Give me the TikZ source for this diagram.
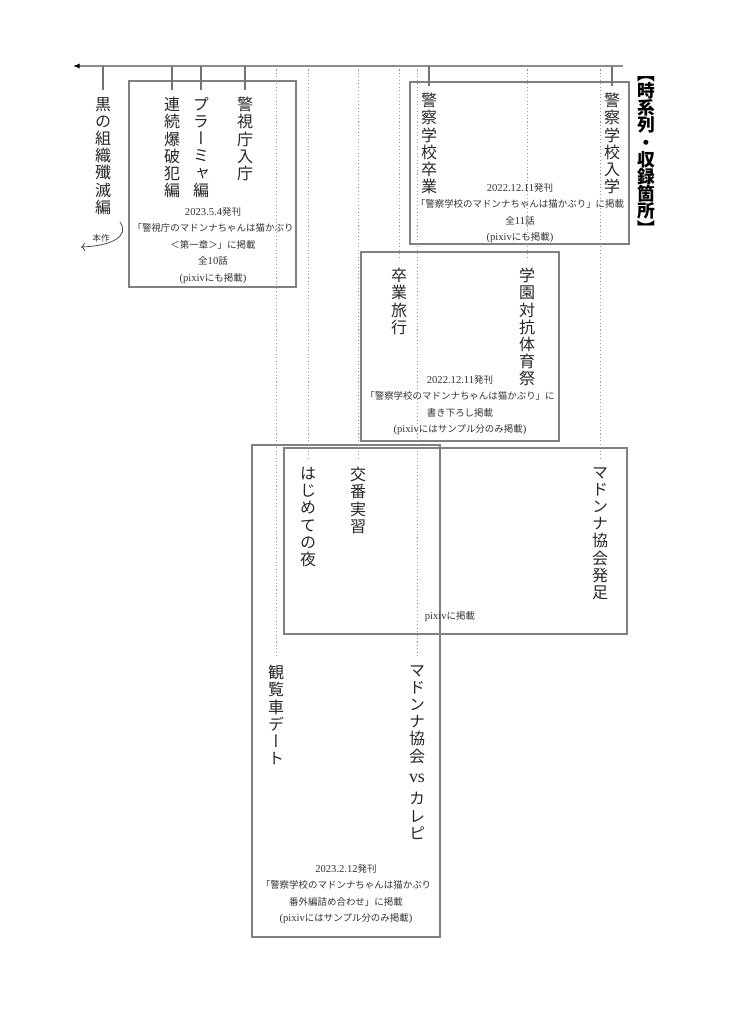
\documentclass[tikz,border=0pt]{standalone}
\usepackage{fontspec}
\usepackage{tikz}
\usetikzlibrary{arrows.meta}
\newfontfamily\jpfont{Noto Sans CJK JP}
\newfontfamily\tatefont[RawFeature=+vert]{Noto Sans CJK JP}
\newfontfamily\latfont[Scale=1.12]{Liberation Serif}
\newcommand{\ltn}[1]{{\latfont #1}}

\tikzset{
  tate/.style={anchor=north, inner sep=0pt, align=center, text=black!85,
    font=\tatefont\fontsize{12}{12.9}\selectfont},
  info/.style={anchor=north, inner sep=0pt, align=center, text=black!80,
    font=\jpfont\fontsize{7.1}{12.4}\selectfont},
  frame/.style={draw=black!50, line width=0.9pt},
  tick/.style={draw=black!55, line width=0.9pt, shorten >=5pt},
  guide/.style={draw=black!40, line width=0.6pt, dash pattern=on 0.8pt off 1.8pt, shorten >=6pt},
}

\begin{document}
\setlength{\lineskiplimit}{-20pt}
\begin{tikzpicture}[x=0.75pt,y=0.75pt,yscale=-1,xscale=1]
\useasboundingbox (0,0) rectangle (731,1024);

% timeline
\coordinate (tl-r) at (623,66);
\coordinate (tl-l) at (73,66);
\draw [draw=black!45, line width=1pt, -{Latex[length=5pt,width=4pt,black]}] (tl-r) -- (tl-l) ;

% frames
\draw [frame] (129,81) rectangle (296,287) ;
\draw [frame] (410,82) rectangle (629,244) ;
\draw [frame] (361,252) rectangle (559,441) ;
\draw [frame] (252,445) rectangle (440,937) ;
\draw [frame] (284,448) rectangle (627,634) ;

% episodes
\node [tate] (kuro) at (103,97) {黒\\の\\組\\織\\殲\\滅\\編};
\node [tate] (renzoku) at (172,97) {連\\続\\爆\\破\\犯\\編};
\node [tate] (pramya) at (201,97) {プ\\ラ\\ー\\ミ\\ャ\\編};
\node [tate] (keishi) at (245,97) {警\\視\\庁\\入\\庁};
\node [tate] (kanransha) at (276,665) {観\\覧\\車\\デ\\ー\\ト};
\node [tate] (hajimete) at (308,467) {は\\じ\\め\\て\\の\\夜};
\node [tate] (koban) at (358,467) {交\\番\\実\\習};
\node [tate] (ryoko) at (399,268) {卒\\業\\旅\\行};
\node [tate] (karepi) at (417,665) {マ\\ド\\ン\\ナ\\協\\会\\[2.4pt]\ltn{vs}\\[4pt]カ\\レ\\ピ};
\node [tate] (sotsugyo) at (429,93) {警\\察\\学\\校\\卒\\業};
\node [tate] (taiikusai) at (527,268) {学\\園\\対\\抗\\体\\育\\祭};
\node [tate] (hossoku) at (600,467) {マ\\ド\\ン\\ナ\\協\\会\\発\\足};
\node [tate] (nyugaku) at (612,93) {警\\察\\学\\校\\入\\学};
\node [tate, font=\tatefont\bfseries\fontsize{13.3}{12.9}\selectfont, text=black] (title) at (646,76) {【\\時\\系\\列\\・\\収\\録\\箇\\所\\】};

% sources
\node [info] (infoA) at (213,207) {\ltn{2023.5.4}発刊\\「警視庁のマドンナちゃんは猫かぶり\\＜第一章＞」に掲載\\全\ltn{10}話\\\ltn{(pixiv}にも掲載\ltn{)}};
\node [info] (infoB) at (520,183) {\ltn{2022.12.11}発刊\\「警察学校のマドンナちゃんは猫かぶり」に掲載\\全\ltn{11}話\\\ltn{(pixiv}にも掲載\ltn{)}};
\node [info] (infoC) at (460,375) {\ltn{2022.12.11}発刊\\「警察学校のマドンナちゃんは猫かぶり」に\\書き下ろし掲載\\\ltn{(pixiv}にはサンプル分のみ掲載\ltn{)}};
\node [info, anchor=center] (infoE) at (450,617) {\ltn{pixiv}に掲載};
\node [info] (infoD) at (346,864) {\ltn{2023.2.12}発刊\\「警察学校のマドンナちゃんは猫かぶり\\番外編詰め合わせ」に掲載\\\ltn{(pixiv}にはサンプル分のみ掲載\ltn{)}};
\node [info, font=\jpfont\fontsize{6.4}{8}\selectfont] (honsaku) at (101,234) {本作};

% ticks
\draw [tick] (kuro.north |- tl-l) -- (kuro.north) ;
\draw [tick] (renzoku.north |- tl-l) -- (renzoku.north) ;
\draw [tick] (pramya.north |- tl-l) -- (pramya.north) ;
\draw [tick] (keishi.north |- tl-l) -- (keishi.north) ;
\draw [tick] (sotsugyo.north |- tl-l) -- (sotsugyo.north) ;
\draw [tick] (nyugaku.north |- tl-l) -- (nyugaku.north) ;
\draw [guide] (kanransha.north |- tl-l) -- (kanransha.north) ;
\draw [guide] (hajimete.north |- tl-l) -- (hajimete.north) ;
\draw [guide] (koban.north |- tl-l) -- (koban.north) ;
\draw [guide] (ryoko.north |- tl-l) -- (ryoko.north) ;
\draw [guide] (karepi.north |- tl-l) -- (karepi.north) ;
\draw [guide] (taiikusai.north |- tl-l) -- (taiikusai.north) ;
\draw [guide] (hossoku.north |- tl-l) -- (hossoku.north) ;

% this one
\coordinate (hon-s) at (120,222);
\coordinate (hon-e) at (81,247);
\draw [draw=black!70, line width=0.6pt, -{To[length=3pt]}] (hon-s) .. controls (130,236) and (112,246) .. (hon-e) ;

\end{tikzpicture}
\end{document}
